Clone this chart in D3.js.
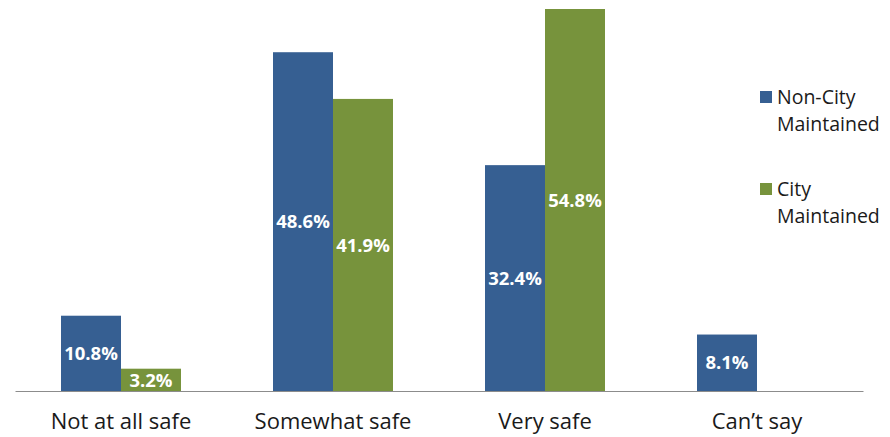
<script src="https://d3js.org/d3.v7.min.js"></script>
<body style="margin:0;background:#fff"></body>
<script>
  // data
  var categories = ["Not at all safe", "Somewhat safe", "Very safe", "Can\u2019t say"];
  var seriesNames = ["Non-City Maintained", "City Maintained"];
  var nonCity = [10.8, 48.6, 32.4, 8.1];
  var city = [3.2, 41.9, 54.8, null];
  var colors = ["#365F92", "#77933C"];

  var width = 890, height = 437;
  var baseline = 391;

  var svg = d3.select("body").append("svg")
    .attr("width", width)
    .attr("height", height)
    .style("font-family", "'Open Sans', sans-serif");

  var x = d3.scaleBand().domain(categories).range([15, 863]);
  var xs = d3.scaleBand().domain([0, 1]).range([0, 120]);
  var y = d3.scaleLinear().domain([0, 54.8]).range([baseline, 9]);

  // flatten into bars
  var bars = [];
  categories.forEach(function(c, i) {
    [nonCity[i], city[i]].forEach(function(v, s) {
      if (v != null) bars.push({cat: c, s: s, v: v});
    });
  });

  var off = (x.bandwidth() - 120) / 2;

  svg.selectAll("rect.bar")
    .data(bars)
  .enter().append("rect")
    .attr("class", "bar")
    .attr("x", function(d) { return x(d.cat) + off + xs(d.s); })
    .attr("y", function(d) { return y(d.v); })
    .attr("width", xs.bandwidth())
    .attr("height", function(d) { return baseline - y(d.v); })
    .style("fill", function(d) { return colors[d.s]; });

  // value labels
  svg.selectAll("text.val")
    .data(bars)
  .enter().append("text")
    .attr("class", "val")
    .attr("x", function(d) { return x(d.cat) + off + xs(d.s) + xs.bandwidth() / 2; })
    .attr("y", function(d) { return (y(d.v) + baseline) / 2; })
    .attr("dy", "0.36em")
    .attr("text-anchor", "middle")
    .style("fill", "#fff")
    .style("font-weight", "bold")
    .style("font-size", "18.5px")
    .text(function(d) { return d.v.toFixed(1) + "%"; });

  // axis line + category labels
  var axis = svg.append("g")
    .attr("transform", "translate(0," + baseline + ")")
    .call(d3.axisBottom(x).tickSize(0).tickPadding(22));
  axis.select(".domain").attr("stroke", "#8c8c8c");
  axis.selectAll("text")
    .style("font-family", "'Open Sans', sans-serif")
    .style("font-size", "22px")
    .style("fill", "#1a1a1a");

  // legend
  var legendY = [91, 183];
  var legend = svg.selectAll("g.leg")
    .data(seriesNames)
  .enter().append("g")
    .attr("class", "leg")
    .attr("transform", function(d, i) { return "translate(760," + legendY[i] + ")"; });
  legend.append("rect")
    .attr("width", 12).attr("height", 12)
    .style("fill", function(d, i) { return colors[i]; });
  legend.append("text")
    .attr("x", 17).attr("y", 13)
    .style("font-size", "19.5px")
    .style("fill", "#1a1a1a")
    .selectAll("tspan")
    .data(function(d) { return d.split(" "); })
  .enter().append("tspan")
    .attr("x", 17)
    .attr("dy", function(d, i) { return i ? 27 : 0; })
    .text(function(d) { return d; });
</script>
